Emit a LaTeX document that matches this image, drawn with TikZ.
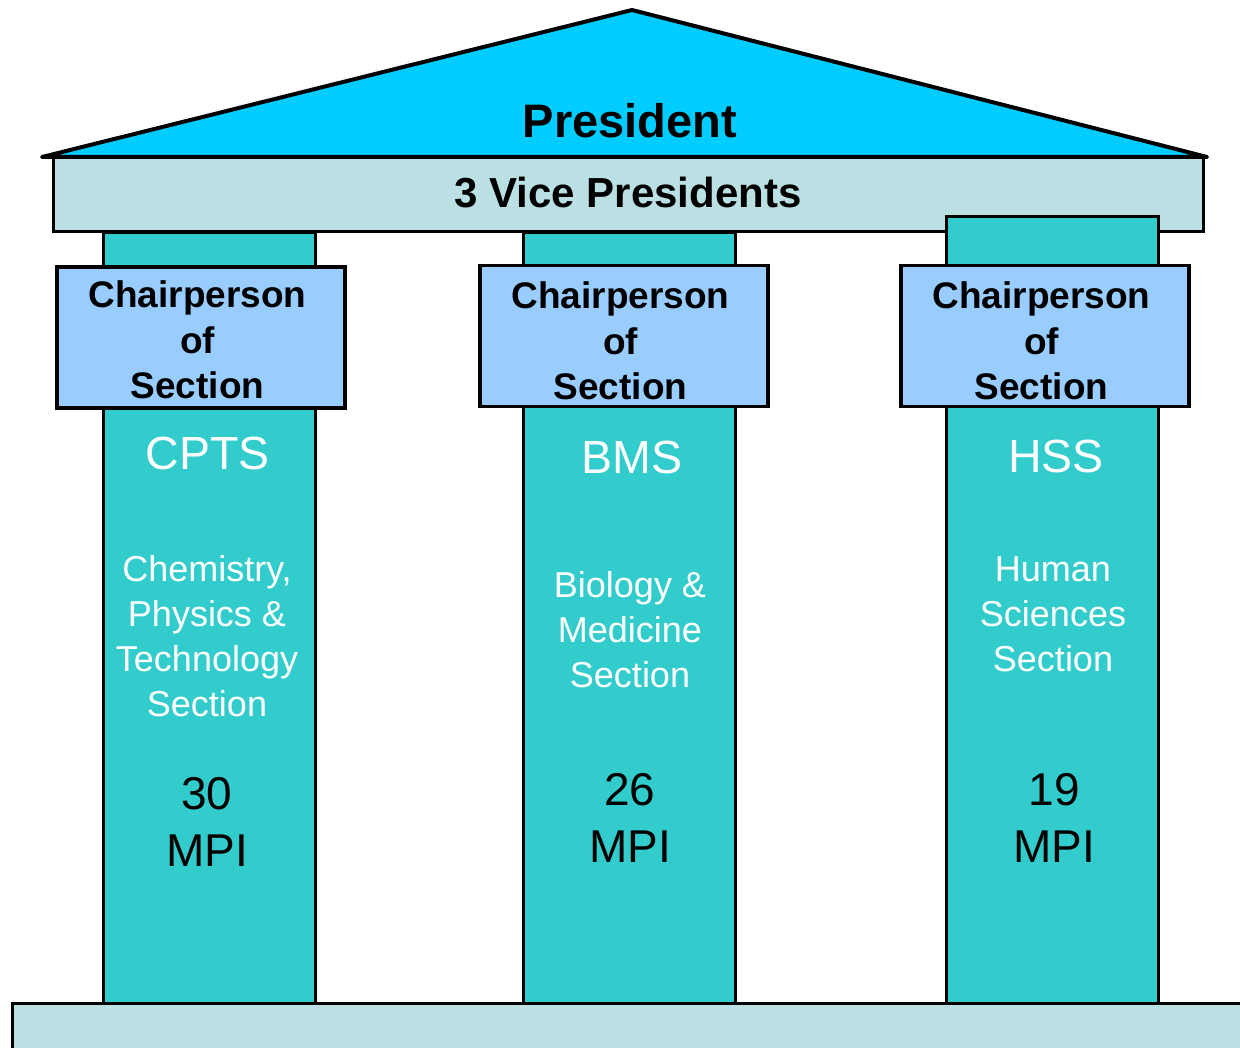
\documentclass[tikz,border=0pt]{standalone}
\usepackage{fontspec}
\setmainfont{Liberation Sans}
\usepackage{xcolor}
\usepackage{tikz}
\usetikzlibrary{positioning}
\definecolor{roofblue}{HTML}{00CCFF}
\definecolor{beamgray}{HTML}{BBE0E3}
\definecolor{pillarteal}{HTML}{33CCCC}
\definecolor{chairblue}{HTML}{99CCFF}

\begin{document}
\begin{tikzpicture}[x=1pt,y=-1pt,
    pillar/.style={draw=black, line width=3pt, fill=pillarteal, inner sep=0pt, minimum width=212pt, minimum height=770pt},
    chair/.style={draw=black, line width=3.5pt, fill=chairblue, inner sep=0pt, minimum width=288pt, minimum height=141pt},
    chairtext/.style={align=center, inner sep=0pt, anchor=base, font=\fontsize{37}{45.5}\selectfont\bfseries},
    sectext/.style={align=center, inner sep=0pt, anchor=base, text=white, font=\fontsize{36}{45}\selectfont},
    abbrtext/.style={inner sep=0pt, anchor=base, text=white, font=\fontsize{46.5}{56}\selectfont},
    mpitext/.style={align=center, inner sep=0pt, anchor=base, font=\fontsize{46}{57}\selectfont}]
    \useasboundingbox (0,0) rectangle (1240,1048);

    % Pillars
    \node[pillar] (cpts) at (209,618) {};
    \node[pillar] (bms) at (629,618) {};

    % Vice presidents beam and roof
    \node[draw=black, line width=3pt, fill=beamgray, minimum width=1150pt, minimum height=75pt, inner sep=0pt] (vp) at (628,194.5) {};
    \node[pillar, minimum height=786pt] (hss) at (1052.5,610) {};
    \draw[black, line width=4pt, line join=round, fill=roofblue] (42,157) -- (632,10) -- (1207,157) -- cycle;
    \node[inner sep=0pt, anchor=base, font=\fontsize{47}{56}\selectfont\bfseries] (president) at (630,138) {President};
    \node[inner sep=0pt, anchor=base, font=\fontsize{42}{50}\selectfont\bfseries] (vicepres) at (628,208) {3 Vice Presidents};

    % Chairperson boxes
    \node[chair] (cptschair) at (201,337.5) {};
    \node[chair] (bmschair) at (624,336) {};
    \node[chair] (hsschair) at (1045,336) {};
    \node[chairtext] (cptschairtext) at (197.5,399) {Chairperson\\of\\Section};
    \node[chairtext] (bmschairtext) at (620.5,400) {Chairperson\\of\\Section};
    \node[chairtext] (hsschairtext) at (1041.5,400) {Chairperson\\of\\Section};

    % Section names
    \node[abbrtext] (cptsname) at (208,470) {CPTS};
    \node[abbrtext] (bmsname) at (632,474) {BMS};
    \node[abbrtext] (hssname) at (1056,472) {HSS};
    \node[sectext] (cptsfull) at (207,716) {Chemistry,\\Physics \&\\Technology\\Section};
    \node[sectext] (bmsfull) at (630,687) {Biology \&\\Medicine\\Section};
    \node[sectext] (hssfull) at (1053,671) {Human\\Sciences\\Section};

    % Number of institutes
    \node[mpitext] (cptsmpi) at (207,866) {30\\MPI};
    \node[mpitext] (bmsmpi) at (630,862) {26\\MPI};
    \node[mpitext] (hssmpi) at (1054,862) {19\\MPI};

    % Base
    \draw[black, line width=3pt, fill=beamgray] (12,1003) rectangle (1262,1070);
\end{tikzpicture}
\end{document}
